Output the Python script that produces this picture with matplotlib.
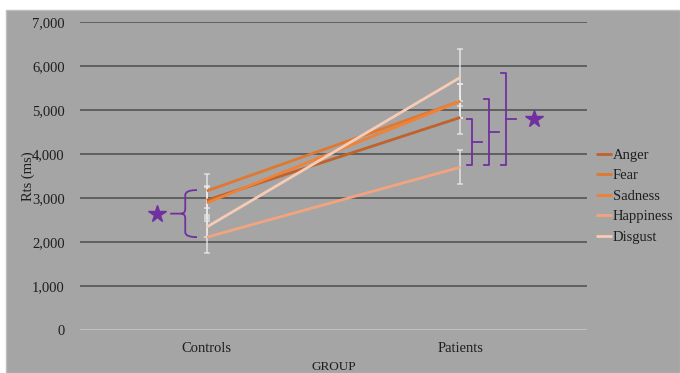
import matplotlib
matplotlib.use("Agg")
import matplotlib.pyplot as plt
from matplotlib.patches import Rectangle, PathPatch
from matplotlib.path import Path
import numpy as np

# ---- data ----
groups = ["Controls", "Patients"]
emotions = ["Anger", "Fear", "Sadness", "Happiness", "Disgust"]
anger = [2950, 4830]
fear = [3160, 5200]
sadness = [2890, 5200]
happiness = [2110, 3700]
disgust = [2340, 5740]
anger_err = [330, 375]
fear_err = [385, 390]
sadness_err = [360, 380]
happiness_err = [370, 390]
disgust_err = [230, 640]
yticks = [0, 1000, 2000, 3000, 4000, 5000, 6000, 7000]
# significance annotations (value spans)
controls_brace = (2110, 3180)
patients_brackets = [(3740, 4800), (3740, 5240), (3740, 5850)]

colors = ["#c0622a", "#e0782f", "#ef8236", "#f3a47f", "#f7cbb4"]
series = [anger, fear, sadness, happiness, disgust]
errs = [anger_err, fear_err, sadness_err, happiness_err, disgust_err]
purple = "#7030a0"

W, H = 680, 373
fig = plt.figure(figsize=(W / 100, H / 100), dpi=100)
fig.patch.set_facecolor("white")
bg = Rectangle((6 / W, 0), 1 - 6 / W, 1 - 10 / H, transform=fig.transFigure,
               facecolor="#a5a5a5", edgecolor="#bdbdbd", lw=1, zorder=-10)
fig.patches.append(bg)

left, right, top, bottom = 80, 587, 22, 330
ax = fig.add_axes([left / W, 1 - bottom / H, (right - left) / W, (bottom - top) / H])
ax.set_facecolor("none")
ax.set_xlim(-0.5, 1.5)
ax.set_ylim(0, 7000)
for s in ax.spines.values():
    s.set_visible(False)

serif = ["Liberation Serif", "DejaVu Serif"]
tc = "#1e1e1e"

for t in yticks[1:]:
    ax.axhline(t, color="#5a5a5a", lw=1.3, zorder=1)
ax.axhline(0, color="#c4c4c4", lw=1.3, zorder=1)

x = np.arange(len(groups))
for vals, e in zip(series, errs):
    ax.errorbar(x, vals, yerr=e, fmt="none", ecolor="#ececec", elinewidth=1.2,
                capsize=2, capthick=1.1, alpha=0.8, zorder=2)
for name, vals, c in zip(emotions, series, colors):
    ax.plot(x, vals, color=c, lw=2.0, label=name, zorder=3, solid_capstyle="butt")

ax.set_yticks(yticks)
ax.set_yticklabels([f"{t:,}" for t in yticks], fontfamily=serif, fontsize=10.5, color=tc)
ax.set_xticks(x)
ax.set_xticklabels(groups, fontfamily=serif, fontsize=10.5, color=tc)
ax.tick_params(axis="both", length=0)
ax.tick_params(axis="y", pad=11)
ax.tick_params(axis="x", pad=9)
ax.set_xlabel("GROUP", fontfamily=serif, fontsize=9.5, color=tc, labelpad=4)
ax.set_ylabel("Rts (ms)", fontfamily=serif, fontsize=10.5, color=tc, labelpad=-2)

# pixel -> data helpers
pxx = 2.0 / (right - left)
pxy = 7000.0 / (bottom - top)

# curly brace at Controls
y0, y1 = controls_brace
ym = (y0 + y1) / 2
xe = 0 - 9.75 * pxx      # ends
xv = 0 - 21.5 * pxx      # spine
xt = 0 - 36.5 * pxx      # tip
r = 5 * pxy
verts = [(xe, y1), (xv, y1), (xv, y1 - r), (xv, ym + r), (xv, ym), (xv - 4 * pxx, ym),
         (xt, ym),
         (xv - 4 * pxx, ym), (xv, ym), (xv, ym - r), (xv, y0 + r), (xv, y0), (xe, y0)]
codes = [Path.MOVETO, Path.CURVE3, Path.CURVE3, Path.LINETO, Path.CURVE3, Path.CURVE3,
         Path.LINETO,
         Path.MOVETO, Path.CURVE3, Path.CURVE3, Path.LINETO, Path.CURVE3, Path.CURVE3]
ax.add_patch(PathPatch(Path(verts, codes), facecolor="none", edgecolor=purple, lw=1.3, zorder=4))
ax.plot([0 - 50 * pxx], [ym], marker="*", ms=13, color=purple, mec=purple, zorder=4)

# square brackets at Patients
offs = [12, 28.75, 45.75]
for (b0, b1), o in zip(patients_brackets, offs):
    xv = 1 + o * pxx
    xl = xv - 5 * pxx
    xr = xv + 9.5 * pxx
    bm = (b0 + b1) / 2
    ax.plot([xl, xv, xv, xl], [b1, b1, b0, b0], color=purple, lw=1.3, zorder=4)
    ax.plot([xv, xr], [bm, bm], color=purple, lw=1.3, zorder=4)
ax.plot([1 + 74 * pxx], [(patients_brackets[-1][0] + patients_brackets[-1][1]) / 2],
        marker="*", ms=13, color=purple, mec=purple, zorder=4)

leg = fig.legend(loc="center left", bbox_to_anchor=(596 / W, 1 - 196 / H), frameon=False,
                 prop={"family": serif, "size": 10.5}, handlelength=1.1, handletextpad=0.05,
                 labelspacing=0.5, borderpad=0, borderaxespad=0)
for t in leg.get_texts():
    t.set_color(tc)

fig.savefig("out.png", dpi=100)
